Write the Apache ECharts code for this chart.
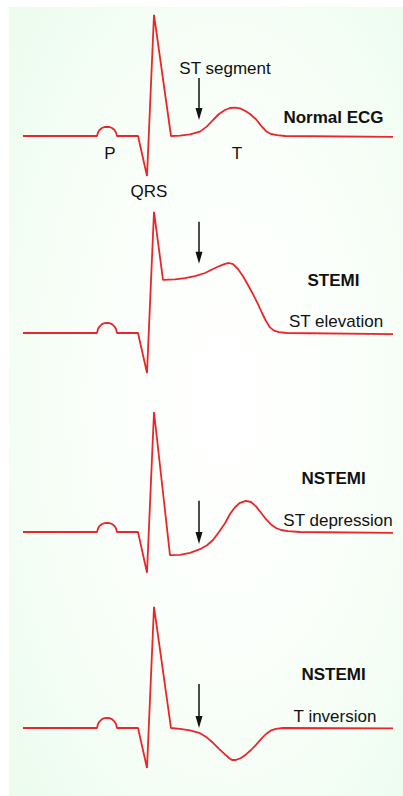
<!DOCTYPE html>
<html>
<head>
<meta charset="utf-8">
<script src="https://cdn.jsdelivr.net/npm/echarts@6/dist/echarts.min.js"></script>
<style>
html,body{margin:0;padding:0;background:#fff;}
#chart{width:403px;height:796px;}
</style>
</head>
<body>
<div id="chart"></div>
<script>
// Time in ms, amplitude in mV (schematic)
const normalEcg = [[0,0],[148,0],[150,0.09],[153,0.15],[158,0.2],[163,0.225],[168,0.23],[173,0.225],[178,0.2],[183,0.15],[186,0.09],[188,0],[230,0],[248,-1.0],[262,3.03],[296,0],
  [314,0.01],[334,0.04],[354,0.11],[368,0.24],[380,0.4],[392,0.55],[404,0.65],[414,0.7],[424,0.71],[434,0.69],[444,0.63],[454,0.55],[466,0.42],[476,0.26],[486,0.12],[496,0.05],[508,0.02],[524,0],[740,-0.02]];
const stemiEcg = [[0,0],[148,0],[150,0.1],[153,0.16],[158,0.22],[163,0.245],[168,0.25],[173,0.245],[178,0.22],[183,0.16],[186,0.1],[188,0],[230,0],[248,-1.0],[262,3.03],[280,1.33],
  [304,1.34],[324,1.37],[344,1.42],[364,1.5],[380,1.6],[394,1.68],[404,1.73],[412,1.75],[420,1.72],[430,1.6],[440,1.42],[450,1.2],[460,0.97],[470,0.72],[478,0.5],[486,0.3],[494,0.14],[502,0.06],[512,0.02],[528,0],[740,-0.03]];
const stDepressionEcg = [[0,0],[148,0],[150,0.09],[153,0.15],[158,0.2],[163,0.22],[168,0.225],[173,0.22],[178,0.2],[183,0.15],[186,0.09],[188,0],[230,0],[248,-1.02],[262,3.0],[294,-0.58],
  [314,-0.57],[334,-0.52],[354,-0.43],[368,-0.33],[380,-0.2],[392,0.0],[404,0.22],[414,0.45],[424,0.62],[434,0.73],[446,0.78],[456,0.75],[466,0.64],[476,0.48],[486,0.32],[496,0.19],[506,0.1],[516,0.05],[530,0.02],[554,0],[740,-0.02]];
const tInversionEcg = [[0,0],[148,0],[150,0.1],[153,0.16],[158,0.22],[163,0.245],[168,0.25],[173,0.245],[178,0.22],[183,0.16],[186,0.1],[188,0],[230,0],[248,-1.0],[262,3.03],[296,0],
  [314,-0.02],[334,-0.06],[354,-0.13],[368,-0.24],[380,-0.37],[392,-0.52],[404,-0.66],[412,-0.75],[418,-0.8],[426,-0.8],[436,-0.75],[446,-0.66],[456,-0.55],[466,-0.42],[476,-0.28],[486,-0.15],[496,-0.06],[506,-0.02],[520,0],[740,-0.01]];

const traces = [normalEcg, stemiEcg, stDepressionEcg, tInversionEcg];
// Arrow annotations: [time, from, to]
const arrows = [[352,1.45,0.55],[352,2.78,1.88],[352,0.78,-0.15],[352,1.1,0.15]];
const titles = ['Normal ECG','STEMI','NSTEMI','NSTEMI'];
const subtitles = ['','ST elevation','ST depression','T inversion'];

const gridTops = [0,197,396,592];
const FONT = '"Liberation Sans", Arial, Helvetica, sans-serif';
const RED = '#e8262b';

const grids = [], xAxes = [], yAxes = [], series = [];
traces.forEach((d,i)=>{
  grids.push({left:23, width:370, top:gridTops[i], height:200, containLabel:false});
  xAxes.push({type:'value', gridIndex:i, min:0, max:740, show:false});
  yAxes.push({type:'value', gridIndex:i, min:-1.6, max:3.4, show:false});
  const a = arrows[i];
  series.push({
    type:'line', xAxisIndex:i, yAxisIndex:i, data:d, symbol:'none', smooth:false,
    silent:true, lineStyle:{color:RED, width:1.8}, z:3,
    markLine:{
      silent:true, animation:false, symbol:['none','triangle'], symbolSize:[7,12],
      label:{show:false},
      lineStyle:{color:'#111', width:1.5, type:'solid'},
      emphasis:{disabled:true},
      data:[[{coord:[a[0],a[1]]},{coord:[a[0],a[2]]}]]
    }
  });
});

function txt(x,y,s,bold){
  return {type:'text', x:x, y:y, z:100, style:{text:s, x:0, y:0, fill:'#111', font:(bold?'bold ':'')+'17px '+FONT, textAlign:'center', textVerticalAlign:'middle'}};
}
const titleY = [117,280.5,478.5,674];
const subY = [0,321,520,716];
const subX = [0,336,338,335];
const graphics = [
  {type:'rect', z:-10, shape:{x:9,y:7,width:394,height:789},
   style:{fill:new echarts.graphic.RadialGradient(0.55,0.5,0.9,[{offset:0,color:'#ffffff'},{offset:0.35,color:'#fbfffb'},{offset:1,color:'#e6fbe9'}])}}
];
titles.forEach((t,i)=>graphics.push(txt(333.5,titleY[i],t,true)));
subtitles.forEach((t,i)=>{ if(t) graphics.push(txt(subX[i],subY[i],t,false)); });
graphics.push(txt(225,68,'ST segment',false));
graphics.push(txt(110,153.5,'P',false));
graphics.push(txt(237,153.5,'T',false));
graphics.push(txt(149,191,'QRS',false));

const chart = echarts.init(document.getElementById('chart'), null, {renderer:'svg'});
chart.setOption({
  animation:false,
  backgroundColor:'#ffffff',
  grid:grids, xAxis:xAxes, yAxis:yAxes, series:series,
  graphic:graphics
});
</script>
</body>
</html>
